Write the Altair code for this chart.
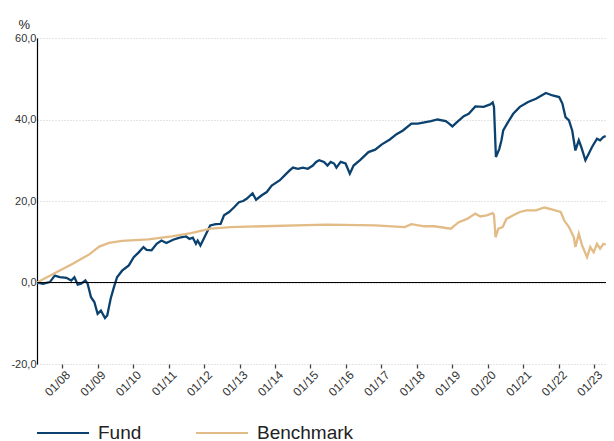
import altair as alt
import pandas as pd

# ---- data ----
fund_dates = [
    "2007-04-18", "2007-06-20", "2007-08-28", "2007-10-18", "2007-12-08",
    "2008-02-15", "2008-04-04", "2008-05-07", "2008-06-10", "2008-07-15",
    "2008-08-28", "2008-09-20", "2008-10-25", "2008-11-28", "2009-01-01",
    "2009-02-04", "2009-03-18", "2009-04-10", "2009-05-15", "2009-06-18",
    "2009-07-20", "2009-09-10", "2009-11-18", "2010-01-08", "2010-02-28",
    "2010-04-18", "2010-05-20", "2010-07-10", "2010-09-01", "2010-10-20",
    "2010-12-10", "2011-02-17", "2011-04-25", "2011-07-01", "2011-08-05",
    "2011-09-08", "2011-10-10", "2011-10-28", "2011-11-25", "2011-12-28",
    "2012-02-01", "2012-03-05", "2012-05-01", "2012-06-20", "2012-07-25",
    "2012-09-15", "2012-11-04", "2012-12-25", "2013-02-07", "2013-03-18",
    "2013-05-15", "2013-06-20", "2013-08-18", "2013-10-08", "2013-11-28",
    "2014-02-20", "2014-04-10", "2014-06-01", "2014-07-05", "2014-08-25",
    "2014-10-15", "2014-12-05", "2015-01-25", "2015-02-28", "2015-04-01",
    "2015-05-20", "2015-06-25", "2015-07-28", "2015-09-01", "2015-09-25",
    "2015-11-08", "2015-12-28", "2016-01-20", "2016-02-10", "2016-03-20",
    "2016-05-28", "2016-08-20", "2016-10-28", "2017-01-05", "2017-03-28",
    "2017-06-05", "2017-08-10", "2017-11-05", "2018-01-10", "2018-03-18",
    "2018-05-25", "2018-08-01", "2018-10-25", "2018-11-28", "2019-01-01",
    "2019-02-20", "2019-04-28", "2019-06-18", "2019-08-25", "2019-11-18",
    "2020-01-25", "2020-02-20", "2020-03-04", "2020-03-24", "2020-04-28",
    "2020-05-20", "2020-06-07", "2020-07-28", "2020-09-18", "2020-11-25",
    "2021-02-18", "2021-05-10", "2021-08-20", "2021-10-28", "2022-01-04",
    "2022-02-06", "2022-03-10", "2022-04-15", "2022-05-18", "2022-06-20",
    "2022-07-25", "2022-08-20", "2022-10-01", "2022-11-04", "2022-12-07",
    "2023-01-28", "2023-03-01", "2023-04-04", "2023-04-28",
]
fund_values = [
    0.0, -0.3, 0.1, 1.7, 1.3,
    1.15, 0.5, 1.3, -0.5, -0.3,
    0.5, -0.3, -3.6, -4.8, -7.7,
    -6.9, -8.7, -8.1, -4.0, -1.15,
    1.3, 2.9, 4.2, 6.2, 7.4,
    8.7, 8.0, 7.9, 9.5, 10.3,
    9.7, 10.5, 11.0, 11.3, 10.7,
    11.0, 9.5, 10.3, 9.1, 10.7,
    12.4, 14.0, 14.3, 14.4, 16.5,
    17.3, 18.4, 19.7, 20.0, 20.6,
    21.9, 20.3, 21.4, 22.2, 23.8,
    25.1, 26.3, 27.5, 28.2, 27.9,
    28.2, 27.9, 28.7, 29.6, 30.0,
    29.6, 28.7, 29.6, 29.2, 28.2,
    29.6, 29.2, 27.9, 26.7, 28.7,
    30.1, 32.0, 32.6, 33.9, 35.1,
    36.4, 37.3, 39.0, 39.0, 39.3,
    39.6, 40.0, 39.6, 39.0, 38.3,
    39.4, 40.8, 41.4, 43.2, 43.1,
    43.7, 44.2, 43.1, 30.8, 32.8,
    34.9, 37.3, 39.4, 41.4, 43.1,
    44.3, 45.1, 46.5, 45.9, 45.5,
    43.9, 40.6, 39.8, 37.3, 32.4,
    34.9, 33.2, 30.0, 31.6, 33.2,
    35.3, 34.9, 35.7, 35.9,
]

bench_dates = [
    "2007-04-18", "2007-11-04", "2008-04-20", "2008-10-07", "2009-01-18",
    "2009-04-28", "2009-09-10", "2010-06-07", "2011-02-01", "2011-08-20",
    "2012-03-10", "2012-10-01", "2013-03-18", "2015-06-07", "2016-10-28",
    "2017-08-28", "2017-11-04", "2018-03-18", "2018-06-28", "2018-12-15",
    "2019-03-07", "2019-06-01", "2019-08-25", "2019-10-15", "2019-12-20",
    "2020-02-20", "2020-03-04", "2020-03-20", "2020-04-18", "2020-06-01",
    "2020-07-10", "2020-09-18", "2020-11-25", "2021-02-01", "2021-05-10",
    "2021-08-04", "2021-10-28", "2022-01-20", "2022-02-25", "2022-04-15",
    "2022-06-04", "2022-06-20", "2022-07-25", "2022-08-28", "2022-10-18",
    "2022-11-20", "2022-12-25", "2023-01-28", "2023-03-01", "2023-04-04",
    "2023-04-28",
]
bench_values = [
    0.0, 2.5, 4.6, 6.9, 8.8,
    9.7, 10.2, 10.6, 11.3, 12.1,
    13.2, 13.6, 13.7, 14.2, 14.0,
    13.6, 14.3, 13.8, 13.8, 13.2,
    14.8, 15.6, 16.9, 16.2, 16.5,
    17.0, 16.6, 11.1, 13.2, 13.6,
    15.6, 16.5, 17.3, 17.7, 17.7,
    18.4, 17.9, 17.3, 15.2, 13.6,
    11.1, 8.7, 12.0, 9.1, 6.2,
    8.7, 7.4, 9.5, 8.3, 9.5,
    9.3,
]

series_names = ["Fund", "Benchmark"]
series_colors = ["#0b416f", "#e2bb86"]
y_ticks = [-20, 0, 20, 40, 60]
x_tick_years = list(range(2008, 2024))

df = pd.concat([
    pd.DataFrame({"date": fund_dates, "value": fund_values, "series": "Fund", "order": 1}),
    pd.DataFrame({"date": bench_dates, "value": bench_values, "series": "Benchmark", "order": 0}),
])

x_scale = alt.Scale(
    type="utc",
    domain=[alt.DateTime(year=2007, month=4, date=18, utc=True),
            alt.DateTime(year=2023, month=5, date=1, utc=True)],
)

lines = alt.Chart(df).mark_line(strokeWidth=2.3, clip=True).encode(
    x=alt.X(
        "date:T",
        scale=x_scale,
        axis=alt.Axis(
            values=[alt.DateTime(year=y, month=1, date=1, utc=True) for y in x_tick_years],
            labelExpr="utcFormat(datum.value, '%m/%y')",
            labelAngle=-45,
            labelAlign="right",
            labelBaseline="top",
            labelFontSize=12,
            labelColor="#333333",
            labelFont="Liberation Sans",
            labelPadding=1,
            labelOffset=2,
            labelOverlap=False,
            domain=False,
            grid=False,
            ticks=True,
            tickSize=4,
            tickColor="#444444",
            tickWidth=1.3,
            title=None,
        ),
    ),
    y=alt.Y(
        "value:Q",
        scale=alt.Scale(domain=[-20, 60], nice=False, zero=False),
        axis=alt.Axis(
            values=y_ticks,
            labelExpr="replace((datum.value < 0 ? '-' : '') + format(abs(datum.value), '.1f'), '.', ',')",
            labelFontSize=11,
            labelColor="#333333",
            labelFont="Liberation Sans",
            labelPadding=1,
            ticks=False,
            domain=True,
            domainColor="#000000",
            domainWidth=1.2,
            grid=True,
            gridColor="#c8c8c8",
            gridDash=[1, 2],
            gridWidth=1,
            title="%",
            titleAngle=0,
            titleAlign="left",
            titleBaseline="bottom",
            titleX=-19,
            titleY=-7,
            titleFontSize=13,
            titleFontWeight="normal",
            titleColor="#222222",
            titleFont="Liberation Sans",
        ),
    ),
    color=alt.Color(
        "series:N",
        scale=alt.Scale(domain=series_names, range=series_colors),
        legend=alt.Legend(
            title=None,
            orient="none",
            legendX=-1,
            legendY=368,
            direction="horizontal",
            symbolType="stroke",
            symbolSize=2704,
            symbolStrokeWidth=2,
            labelFontSize=19,
            labelFont="Liberation Sans",
            labelColor="#222222",
            labelOffset=8,
            columnPadding=50,
            padding=0,
            labelLimit=300,
        ),
    ),
    order=alt.Order("order:Q"),
)

zero_line = alt.Chart(df).mark_rule(color="#000000", strokeWidth=1.2).encode(
    y=alt.datum(0)
)

chart = alt.layer(lines, zero_line).properties(
    width=569,
    height=326,
    autosize=alt.AutoSizeParams(type="none"),
    padding={"left": 29, "top": 30, "right": 0, "bottom": 77},
).configure_view(stroke=None)

chart.save("out.html", embed_options={"renderer": "svg", "actions": False})
